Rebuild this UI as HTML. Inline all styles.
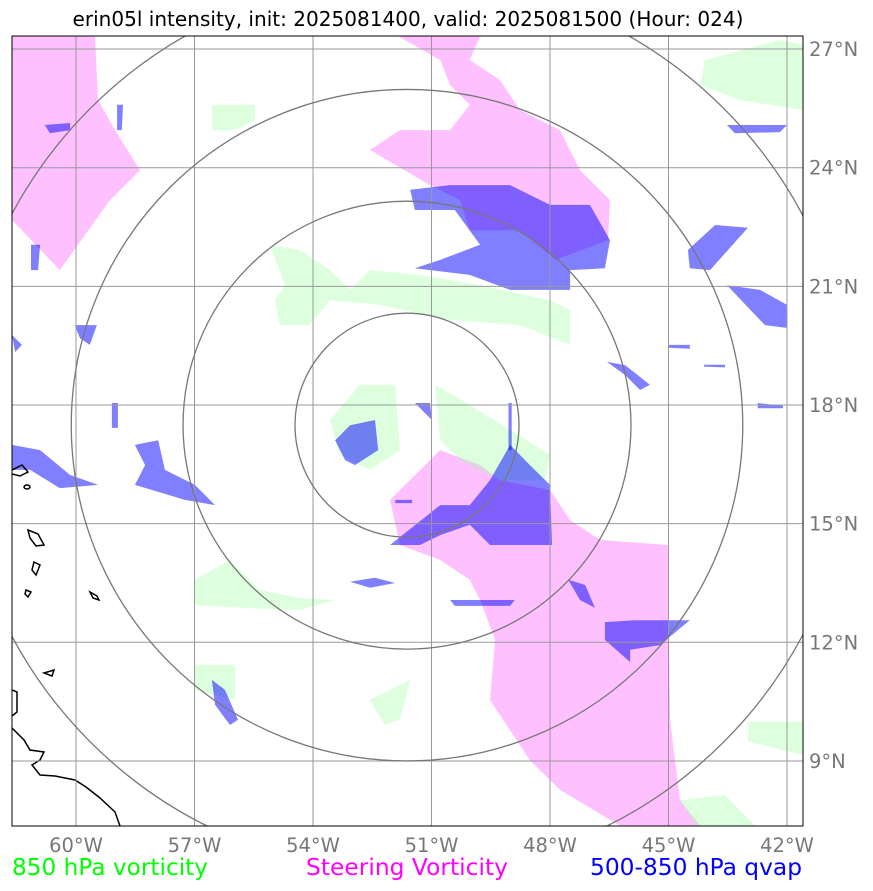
<!DOCTYPE html>
<html><head><meta charset="utf-8"><style>
body{margin:0;background:#fff;width:873px;height:891px;overflow:hidden;font-family:"DejaVu Sans","Liberation Sans",sans-serif}
svg{position:absolute;left:0;top:0}
text{font-family:"DejaVu Sans","Liberation Sans",sans-serif}
</style></head><body>
<svg id="chart" width="873" height="891" xmlns="http://www.w3.org/2000/svg">
<text x="408" y="26" font-size="20" text-anchor="middle" fill="#000" textLength="671" lengthAdjust="spacingAndGlyphs">erin05l intensity, init: 2025081400, valid: 2025081500 (Hour: 024)</text>
<defs><clipPath id="clip"><rect x="12" y="36" width="791" height="790"/></clipPath></defs>
<g id="layers" clip-path="url(#clip)"></g>
<rect x="12" y="36" width="791" height="790" fill="none" stroke="#000" stroke-width="1"/>
<g id="ticks"></g>
<text x="12" y="875" font-size="23" fill="#00ff00" textLength="196" lengthAdjust="spacingAndGlyphs">850 hPa vorticity</text>
<text x="306" y="875" font-size="23" fill="#ff00ff" textLength="202" lengthAdjust="spacingAndGlyphs">Steering Vorticity</text>
<text x="590" y="875" font-size="23" fill="#0000ff" textLength="212" lengthAdjust="spacingAndGlyphs">500-850 hPa qvap</text>
</svg>
<script>
const lonTicks=[-60,-57,-54,-51,-48,-45,-42];
const latTicks=[9,12,15,18,21,24,27];
const ringRadiiDeg=[2.835,5.67,8.5,11.34];
const stormCenter=[-51.62,17.49];
const pinkShapes=[
[[-61.62,27.33],[-59.52,27.33],[-59.44,25.71],[-59.01,24.95],[-58.38,23.94],[-59.14,23.18],[-60.41,21.41],[-61.62,22.68]],
[[-51.85,27.33],[-49.77,27.33],[-50.03,26.72],[-49.27,26.22],[-48.76,25.46],[-47.75,24.95],[-47.24,23.94],[-46.48,23.18],[-46.53,22.17],[-47.87,21.67],[-48.76,22.42],[-50.03,22.42],[-50.28,23.18],[-51.04,23.56],[-52.56,24.45],[-51.8,24.95],[-50.53,24.95],[-50.03,25.59],[-50.53,26.09],[-50.78,26.72]],
[[-52.05,15.6],[-50.78,16.86],[-49.77,16.48],[-49.27,16.1],[-48.0,15.85],[-47.49,15.09],[-46.73,14.59],[-45.01,14.46],[-44.96,10.04],[-44.71,8.01],[-44.2,7.36],[-46.23,7.36],[-47.75,8.27],[-48.51,9.02],[-49.52,10.54],[-49.39,12.06],[-49.77,13.07],[-50.03,13.58],[-50.78,14.08],[-51.8,14.46]]
];
const greenShapes=[
[[-55.09,22.05],[-54.33,21.92],[-53.57,21.41],[-53.06,20.91],[-52.56,21.41],[-51.29,21.29],[-49.77,21.03],[-48.0,20.65],[-47.49,20.4],[-47.49,19.52],[-48.76,20.02],[-50.53,20.15],[-52.3,20.53],[-53.57,20.65],[-54.08,20.02],[-54.84,20.02],[-54.96,20.65],[-54.71,21.03]],
[[-53.57,17.62],[-52.81,18.51],[-51.92,18.51],[-51.8,16.86],[-52.56,16.36],[-53.32,16.74]],
[[-50.91,18.51],[-50.03,18.0],[-49.01,17.37],[-48.0,16.74],[-48.13,16.1],[-49.27,16.1],[-50.28,16.61],[-50.78,17.11]],
[[-44.08,26.72],[-42.18,27.23],[-41.59,27.1],[-41.59,25.46],[-43.19,25.71],[-44.2,26.09]],
[[-56.56,25.59],[-55.47,25.59],[-55.47,25.2],[-56.0,24.95],[-56.56,24.95]],
[[-56.99,13.58],[-56.1,14.08],[-55.34,13.32],[-54.33,13.12],[-53.44,13.07],[-54.33,12.82],[-55.85,12.87],[-56.99,12.94]],
[[-56.99,11.43],[-55.97,11.43],[-55.97,10.54],[-56.99,10.8]],
[[-52.56,10.54],[-51.54,11.05],[-51.8,10.04],[-52.18,9.91]],
[[-42.99,9.99],[-41.59,9.99],[-41.59,9.15],[-42.99,9.5]],
[[-44.71,8.01],[-43.57,8.14],[-42.81,7.36],[-44.33,7.36]]
];
const blueShapes=[
[[-51.54,23.44],[-50.53,23.56],[-49.01,23.56],[-48.0,23.06],[-46.99,23.06],[-46.48,22.17],[-46.61,21.46],[-47.49,21.41],[-47.49,20.91],[-49.01,20.91],[-50.03,21.29],[-51.42,21.46],[-50.78,21.67],[-49.77,22.05],[-50.41,22.93],[-51.42,22.93]],
[[-53.44,17.11],[-53.06,17.49],[-52.43,17.62],[-52.35,16.86],[-52.94,16.48],[-53.19,16.61]],
[[-52.05,14.46],[-50.78,15.47],[-50.03,15.47],[-49.52,16.1],[-49.01,16.99],[-48.51,16.48],[-48.0,15.98],[-47.95,14.46],[-49.52,14.46],[-50.03,14.97],[-50.78,14.71],[-51.29,14.46]],
[[-61.62,16.99],[-60.91,16.86],[-60.15,16.23],[-59.44,15.98],[-60.41,15.9],[-61.16,16.36],[-61.62,16.36]],
[[-58.51,16.99],[-57.92,17.11],[-57.75,16.36],[-56.99,15.98],[-56.48,15.47],[-57.24,15.6],[-58.51,15.98],[-58.25,16.48]],
[[-44.51,21.92],[-43.82,22.55],[-42.99,22.48],[-43.95,21.41],[-44.46,21.46]],
[[-43.52,21.03],[-42.68,20.91],[-42.0,20.53],[-42.0,19.95],[-42.56,20.02]],
[[-46.56,19.09],[-46.1,19.01],[-45.47,18.51],[-45.72,18.38],[-46.1,18.76]],
[[-46.61,12.51],[-45.85,12.56],[-44.46,12.56],[-45.22,11.93],[-45.97,11.81],[-45.97,11.5],[-46.61,12.06]],
[[-47.54,13.58],[-47.11,13.45],[-46.86,12.87],[-47.24,13.07]],
[[-53.06,13.53],[-52.43,13.63],[-51.92,13.5],[-52.56,13.38]],
[[-50.53,13.07],[-48.89,13.07],[-49.01,12.92],[-50.41,12.92]],
[[-56.56,11.05],[-56.23,10.8],[-55.9,10.04],[-56.1,9.91],[-56.48,10.42]],
[[-43.52,25.08],[-42.0,25.08],[-42.18,24.9],[-43.32,24.87]],
[[-60.79,25.08],[-60.15,25.13],[-60.15,24.95],[-60.66,24.87]],
[[-60.03,20.02],[-59.47,20.02],[-59.65,19.52],[-59.9,19.69]],
[[-61.62,19.77],[-61.37,19.52],[-61.54,19.34]],
[[-61.14,22.05],[-60.91,22.05],[-60.96,21.41],[-61.14,21.41]],
[[-59.09,18.05],[-58.94,18.05],[-58.94,17.42],[-59.09,17.42]],
[[-58.96,25.59],[-58.81,25.59],[-58.84,24.95],[-58.96,24.95]],
[[-45.01,19.52],[-44.46,19.52],[-44.46,19.42],[-45.01,19.45]],
[[-44.1,19.02],[-43.57,19.02],[-43.57,18.95],[-44.1,18.97]],
[[-42.74,18.05],[-42.1,17.98],[-42.1,17.92],[-42.74,17.92]],
[[-51.42,18.05],[-51.04,18.05],[-50.99,17.62]],
[[-49.05,18.05],[-48.97,18.05],[-48.97,16.86],[-49.05,16.86]],
[[-51.92,15.6],[-51.49,15.6],[-51.49,15.52],[-51.92,15.52]]
];
const coasts=[
"M12,470 L22,465 L28,472 L20,476 L12,474",
"M24,487 a3,2 0 1,0 6,0 a3,2 0 1,0 -6,0",
"M28,530 L38,534 L44,545 L36,546 L30,538 Z",
"M34,562 L40,565 L36,575 L32,570 Z",
"M26,590 L31,592 L28,597 L25,594 Z",
"M90,592 L97,596 L99,600 L93,598 Z",
"M44,673 L54,670 L52,676 Z",
"M12,690 L17,692 L17,712 L12,716",
"M12,728 L24,740 L30,750 L44,752 L40,760 L32,765 L40,775 L55,776 L75,780 L86,787 L100,798 L115,812 L120,826"
];
const X=lon=>76+(lon+60)*39.5;
const Y=lat=>405-(lat-18)*39.55;
const NS="http://www.w3.org/2000/svg";
const layers=document.getElementById('layers');
const ticks=document.getElementById('ticks');
function mk(tag,parent){const e=document.createElementNS(NS,tag);parent.appendChild(e);return e;}
function drawSet(arr,fill,name){arr.forEach(s=>{const p=mk('polygon',layers);p.setAttribute('points',s.map(q=>X(q[0]).toFixed(1)+','+Y(q[1]).toFixed(1)).join(' '));p.setAttribute('fill',fill);

});}
drawSet(pinkShapes,'#ffc0ff','steering-vorticity-area');
drawSet(greenShapes,'rgba(160,255,160,0.35)','vorticity-850-area');
drawSet(blueShapes,'rgba(0,0,255,0.5)','qvap-area');
coasts.forEach(d=>{const p=mk('path',layers);p.setAttribute('d',d);p.setAttribute('fill','none');p.setAttribute('stroke','#000');p.setAttribute('stroke-width','1.5');

});
lonTicks.forEach(l=>{const ln=mk('line',layers);ln.setAttribute('x1',X(l));ln.setAttribute('x2',X(l));ln.setAttribute('y1',36);ln.setAttribute('y2',826);ln.setAttribute('stroke','#999');ln.setAttribute('stroke-width','1');


const t=mk('text',ticks);t.setAttribute('x',X(l));t.setAttribute('y',852);t.setAttribute('text-anchor','middle');t.setAttribute('font-size','19.5');t.setAttribute('fill','#777');t.textContent=Math.abs(l)+'°W';

});
latTicks.forEach(l=>{const ln=mk('line',layers);ln.setAttribute('y1',Y(l));ln.setAttribute('y2',Y(l));ln.setAttribute('x1',12);ln.setAttribute('x2',803);ln.setAttribute('stroke','#999');ln.setAttribute('stroke-width','1');


const t=mk('text',ticks);t.setAttribute('x',809);t.setAttribute('y',Y(l)+7);t.setAttribute('font-size','19.5');t.setAttribute('fill','#777');t.textContent=l+'°N';

});
ringRadiiDeg.forEach(r=>{const c=mk('circle',layers);c.setAttribute('cx',X(stormCenter[0]));c.setAttribute('cy',Y(stormCenter[1]));c.setAttribute('r',r*39.5);c.setAttribute('fill','none');c.setAttribute('stroke','#777');c.setAttribute('stroke-width','1.3');

});
</script>
</body></html>
